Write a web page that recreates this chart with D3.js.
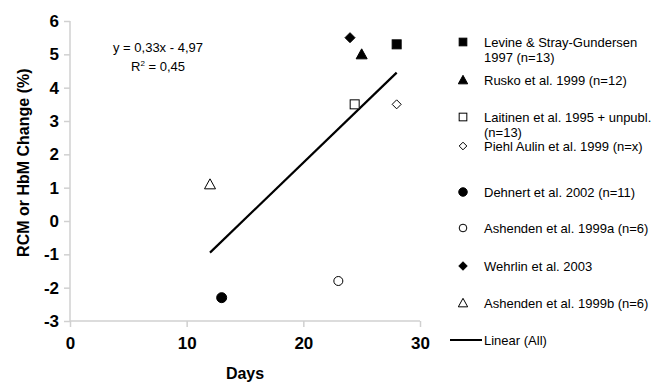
<!DOCTYPE html>
<html>
<head>
<meta charset="utf-8">
<script src="https://cdn.jsdelivr.net/npm/d3@7"></script>
<style>
  body { margin: 0; background: #fff; }
  text { font-family: "Liberation Sans", Arial, sans-serif; }
</style>
</head>
<body>
<div id="chart"></div>
<script>
// study data (days, % change)
const studies = [
    "Levine & Stray-Gundersen|1997 (n=13)",
    "Rusko et al. 1999 (n=12)",
    "Laitinen et al. 1995 + unpubl.|(n=13)",
    "Piehl Aulin et al. 1999 (n=x)",
    "Dehnert et al. 2002 (n=11)",
    "Ashenden et al. 1999a (n=6)",
    "Wehrlin et al. 2003",
    "Ashenden et al. 1999b (n=6)"
];
const days = [28, 25, 24.4, 28, 13, 23, 24, 12];
const change = [5.3, 5.0, 3.5, 3.5, -2.3, -1.8, 5.5, 1.1];
const shapes = ["square", "triangle", "square", "diamond", "circle", "circle", "diamond", "triangle"];
const filled = [true, true, false, false, true, false, true, false];

const trendX = [12, 28];
const trendY = [-0.95, 4.45];

const xTicks = [0, 10, 20, 30];
const yTicks = [-3, -2, -1, 0, 1, 2, 3, 4, 5, 6];

const width = 652, height = 387;
const svg = d3.select("#chart").append("svg")
    .attr("width", width)
    .attr("height", height);

const x = d3.scaleLinear().domain([0, 30]).range([70, 420]);
const y = d3.scaleLinear().domain([-3, 6]).range([321, 21]);

const gridColor = "#d0d0d0";

// axes
const xAxis = svg.append("g")
    .attr("transform", `translate(0,${y(-3)})`)
    .call(d3.axisBottom(x).tickValues(xTicks).tickSize(6).tickPadding(10).tickFormat(d => String(d)));
const yAxis = svg.append("g")
    .attr("transform", `translate(${x(0)},0)`)
    .call(d3.axisLeft(y).tickValues(yTicks).tickSize(6).tickPadding(5).tickFormat(d => String(d)));

[xAxis, yAxis].forEach(g => {
    g.select(".domain").attr("stroke", gridColor).attr("stroke-width", 1.5);
    g.selectAll(".tick line").attr("stroke", gridColor).attr("stroke-width", 1.5);
    g.selectAll(".tick text")
        .attr("fill", "#000")
        .style("font-family", "'Liberation Sans', Arial, sans-serif")
        .style("font-size", "17px")
        .style("font-weight", "bold");
});
// d3 draws the domain path with outer ticks; remove them
xAxis.select(".domain").attr("d", `M${x(0)},0H${x(30)}`);
yAxis.select(".domain").attr("d", `M0,${y(-3)}V${y(6)}`);

// axis titles
svg.append("text")
    .attr("x", x(15))
    .attr("y", 379)
    .attr("text-anchor", "middle")
    .style("font-size", "16px")
    .style("font-weight", "bold")
    .text("Days");

svg.append("text")
    .attr("transform", `translate(29,${y(1.75)}) rotate(-90)`)
    .attr("text-anchor", "middle")
    .style("font-size", "16px")
    .style("font-weight", "bold")
    .text("RCM or HbM Change (%)");

// trend line
svg.append("line")
    .attr("x1", x(trendX[0])).attr("y1", y(trendY[0]))
    .attr("x2", x(trendX[1])).attr("y2", y(trendY[1]))
    .attr("stroke", "#000")
    .attr("stroke-width", 2.2);

// equation
svg.append("text")
    .attr("x", 158).attr("y", 52)
    .attr("text-anchor", "middle")
    .style("font-size", "13px")
    .text("y = 0,33x - 4,97");
const r2 = svg.append("text")
    .attr("x", 158).attr("y", 71)
    .attr("text-anchor", "middle")
    .style("font-size", "13px");
r2.append("tspan").text("R");
r2.append("tspan").attr("dy", -5).style("font-size", "8px").text("2");
r2.append("tspan").attr("dy", 5).text(" = 0,45");

// marker drawing
function drawMarker(g, shape, fill, cx, cy, k) {
    const stroke = "#000";
    const f = fill ? "#000" : "#fff";
    if (shape === "square") {
        const s = 4.5 * k;
        g.append("rect").attr("x", cx - s).attr("y", cy - s)
            .attr("width", 2 * s).attr("height", 2 * s)
            .attr("fill", f).attr("stroke", stroke).attr("stroke-width", 1);
    } else if (shape === "triangle") {
        const s = 5.5 * k;
        g.append("path")
            .attr("d", `M${cx},${cy - s}L${cx + s},${cy + s * 0.82}L${cx - s},${cy + s * 0.82}Z`)
            .attr("fill", f).attr("stroke", stroke).attr("stroke-width", 1);
    } else if (shape === "diamond") {
        const s = (fill ? 5 : 4.5) * k;
        g.append("path")
            .attr("d", `M${cx},${cy - s}L${cx + s},${cy}L${cx},${cy + s}L${cx - s},${cy}Z`)
            .attr("fill", f).attr("stroke", stroke).attr("stroke-width", 1);
    } else {
        g.append("circle").attr("cx", cx).attr("cy", cy).attr("r", (fill ? 5 : 4.5) * k)
            .attr("fill", f).attr("stroke", stroke).attr("stroke-width", 1);
    }
}

const points = svg.append("g");
studies.forEach((s, i) => drawMarker(points, shapes[i], filled[i], x(days[i]), y(change[i]), 1));

// legend
const legendY = [42, 80, 117, 146, 192, 228, 266, 303];
const legend = svg.append("g");
studies.forEach((s, i) => {
    drawMarker(legend, shapes[i], filled[i], 463, legendY[i], 0.85);
    const t = legend.append("text")
        .attr("x", 484).attr("y", legendY[i] + 4.5)
        .style("font-size", "13px");
    s.split("|").forEach((line, j) => {
        t.append("tspan").attr("x", 484).attr("dy", j === 0 ? 0 : 15).text(line);
    });
});
legend.append("line")
    .attr("x1", 450).attr("x2", 482)
    .attr("y1", 340).attr("y2", 340)
    .attr("stroke", "#000").attr("stroke-width", 2);
legend.append("text")
    .attr("x", 484).attr("y", 344.5)
    .style("font-size", "13px")
    .text("Linear (All)");
</script>
</body>
</html>
